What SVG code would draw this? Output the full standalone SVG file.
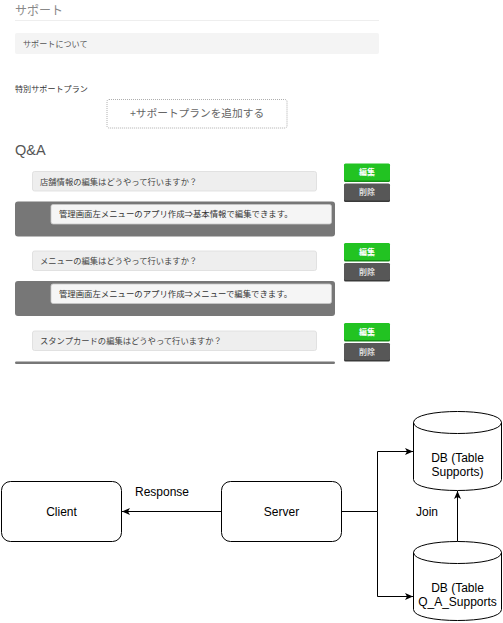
<svg xmlns="http://www.w3.org/2000/svg" width="503" height="623" viewBox="0 0 503 623">
<style>
.jp{font-family:"Noto Sans CJK JP","Noto Sans",sans-serif}
.lt{font-family:"Liberation Sans",Arial,sans-serif;font-size:12px;fill:#000}
.qbox{fill:#eeeeee;stroke:#dcdcdc;stroke-width:0.8}
.qtxt{font-size:8.3px;fill:#444}
.atxt{font-size:8.4px;fill:#333}
.ans{fill:#f5f5f5;stroke:#c8c8c8;stroke-width:0.8}
.panel{fill:#777777}
.edit{fill:#22c322}
.edit-s{fill:#168f16}
.del{fill:#575757}
.del-s{fill:#3a3a3a}
.btxt{font-size:8px;font-weight:bold;text-anchor:middle}
.node{fill:#ffffff;stroke:#000;stroke-width:1}
.edge{fill:none;stroke:#000;stroke-width:1}
</style>
<defs>
<marker id="arrow" markerUnits="userSpaceOnUse" markerWidth="8" markerHeight="8" viewBox="0 0 8 8" refX="8" refY="4" orient="auto">
<path d="M0,0.5 L8,4 L0,7.5 L2,4 Z" fill="#000"/>
</marker>
</defs>
<rect x="0" y="0" width="503" height="623" fill="#ffffff"/>

<g id="ui-support">
<text class="jp" x="15" y="14.5" font-size="12" fill="#888">サポート</text>
<line x1="15" y1="20.5" x2="379" y2="20.5" stroke="#eeeeee" stroke-width="1"/>
<rect x="15" y="33" width="364" height="21" rx="2" fill="#f4f4f4"/>
<text class="jp" x="23" y="47.2" font-size="8.1" fill="#555">サポートについて</text>
<text class="jp" x="15" y="92.3" font-size="8.1" fill="#333">特別サポートプラン</text>
<rect x="107" y="99.5" width="180" height="28.5" rx="2" fill="#fff" stroke="#999" stroke-width="0.8" stroke-dasharray="1 1"/>
<text class="jp" x="197" y="117.3" font-size="10.7" fill="#666" text-anchor="middle">+サポートプランを追加する</text>
<text x="15" y="154.5" font-family="'Liberation Sans',Arial,sans-serif" font-size="14.5" fill="#555">Q&amp;A</text>
</g>

<g id="qa-1">
<rect class="qbox" x="32.5" y="171.5" width="284" height="19.5" rx="2"/>
<text class="jp qtxt" x="40" y="184.8">店舗情報の編集はどうやって行いますか？</text>
<rect class="edit-s" x="344" y="164" width="46" height="18" rx="1.5"/>
<rect class="edit" x="344" y="163.5" width="46" height="17" rx="1.5"/>
<text class="jp btxt" x="367" y="175" fill="#fff">編集</text>
<rect class="del-s" x="344" y="184" width="46" height="18" rx="1.5"/>
<rect class="del" x="344" y="183.5" width="46" height="17" rx="1.5"/>
<text class="jp btxt" x="367" y="195" fill="#ddd">削除</text>
<rect class="panel" x="15" y="201.5" width="320" height="35" rx="3"/>
<rect class="ans" x="51" y="204.5" width="280.5" height="19.5" rx="2"/>
<text class="jp atxt" x="59" y="217.4">管理画面左メニューのアプリ作成⇒基本情報で編集できます。</text>
</g>

<g id="qa-2" transform="translate(0,79.5)">
<rect class="qbox" x="32.5" y="171.5" width="284" height="19.5" rx="2"/>
<text class="jp qtxt" x="40" y="184.8">メニューの編集はどうやって行いますか？</text>
<rect class="edit-s" x="344" y="164" width="46" height="18" rx="1.5"/>
<rect class="edit" x="344" y="163.5" width="46" height="17" rx="1.5"/>
<text class="jp btxt" x="367" y="175" fill="#fff">編集</text>
<rect class="del-s" x="344" y="184" width="46" height="18" rx="1.5"/>
<rect class="del" x="344" y="183.5" width="46" height="17" rx="1.5"/>
<text class="jp btxt" x="367" y="195" fill="#ddd">削除</text>
<rect class="panel" x="15" y="201.5" width="320" height="35" rx="3"/>
<rect class="ans" x="51" y="204.5" width="280.5" height="19.5" rx="2"/>
<text class="jp atxt" x="59" y="217.4">管理画面左メニューのアプリ作成⇒メニューで編集できます。</text>
</g>

<g id="qa-3" transform="translate(0,159.5)">
<rect class="qbox" x="32.5" y="171.5" width="284" height="19.5" rx="2"/>
<text class="jp qtxt" x="40" y="184.8">スタンプカードの編集はどうやって行いますか？</text>
<rect class="edit-s" x="344" y="164" width="46" height="18" rx="1.5"/>
<rect class="edit" x="344" y="163.5" width="46" height="17" rx="1.5"/>
<text class="jp btxt" x="367" y="175" fill="#fff">編集</text>
<rect class="del-s" x="344" y="184" width="46" height="18" rx="1.5"/>
<rect class="del" x="344" y="183.5" width="46" height="17" rx="1.5"/>
<text class="jp btxt" x="367" y="195" fill="#ddd">削除</text>
<rect class="panel" x="15" y="202" width="320" height="2.5" rx="1.2"/>
</g>

<g id="connectors">
<path class="edge" d="M221.5,511.5 H122" marker-end="url(#arrow)"/>
<path class="edge" d="M341.5,511.5 H377.5 V451.5 H413"  marker-end="url(#arrow)"/>
<path class="edge" d="M377.5,511.5 V596.5 H413" marker-end="url(#arrow)"/>
<path class="edge" d="M457.5,541.5 V491" marker-end="url(#arrow)"/>
<text class="lt" x="162" y="496" text-anchor="middle">Response</text>
<text class="lt" x="427" y="516" text-anchor="middle">Join</text>
</g>

<g id="client">
<rect class="node" x="1.5" y="481.5" width="120" height="60" rx="9"/>
<text class="lt" x="61.5" y="516" text-anchor="middle">Client</text>
</g>

<g id="server">
<rect class="node" x="221.5" y="481.5" width="120" height="60" rx="9"/>
<text class="lt" x="281.5" y="516" text-anchor="middle">Server</text>
</g>

<g id="db-supports">
<path class="node" d="M413.5,422.5 C413.5,407.83 501.5,407.83 501.5,422.5 V479.5 C501.5,494.17 413.5,494.17 413.5,479.5 Z"/>
<path class="edge" d="M413.5,422.5 C413.5,437.17 501.5,437.17 501.5,422.5"/>
<text class="lt" x="457.5" y="461.5" text-anchor="middle">DB (Table</text>
<text class="lt" x="457.5" y="475.5" text-anchor="middle">Supports)</text>
</g>

<g id="db-qa-supports">
<path class="node" d="M413.5,552.5 C413.5,537.83 501.5,537.83 501.5,552.5 V609.5 C501.5,624.17 413.5,624.17 413.5,609.5 Z"/>
<path class="edge" d="M413.5,552.5 C413.5,567.17 501.5,567.17 501.5,552.5"/>
<text class="lt" x="457.5" y="591.5" text-anchor="middle">DB (Table</text>
<text class="lt" x="457.5" y="605.5" text-anchor="middle">Q_A_Supports</text>
</g>
</svg>
